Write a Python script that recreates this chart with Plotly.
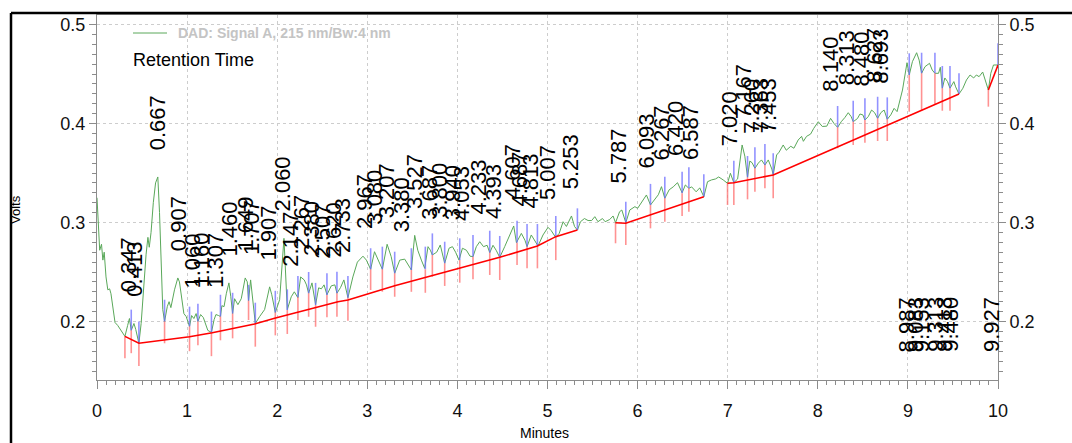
import numpy as np
import plotly.graph_objects as go

# ---------------- data ----------------
time_min = [0.000, 0.015, 0.030, 0.050, 0.065, 0.080, 0.100, 0.120, 0.140, 0.155, 0.175, 0.200, 0.230, 0.260,
            0.290, 0.310, 0.340, 0.360, 0.380, 0.410, 0.430, 0.465, 0.490, 0.520, 0.545, 0.565, 0.580, 0.600,
            0.625, 0.650, 0.675, 0.694, 0.713, 0.730, 0.750, 0.780, 0.800, 0.820, 0.860, 0.897, 0.915, 0.940,
            0.964, 0.990, 1.027, 1.050, 1.075, 1.100, 1.120, 1.150, 1.180, 1.230, 1.270, 1.300, 1.320, 1.350,
            1.370, 1.386, 1.410, 1.435, 1.464, 1.485, 1.505, 1.527, 1.564, 1.601, 1.645, 1.668, 1.682, 1.705,
            1.730, 1.757, 1.805, 1.860, 1.916, 1.940, 1.979, 2.027, 2.075, 2.090, 2.112, 2.156, 2.190, 2.230,
            2.260, 2.300, 2.325, 2.349, 2.386, 2.426, 2.460, 2.490, 2.520, 2.552, 2.600, 2.640, 2.663, 2.704,
            2.740, 2.785, 2.840, 2.890, 2.952, 2.990, 3.037, 3.080, 3.120, 3.167, 3.220, 3.265, 3.304, 3.360,
            3.415, 3.450, 3.489, 3.526, 3.560, 3.600, 3.637, 3.674, 3.700, 3.722, 3.770, 3.810, 3.840, 3.859,
            3.907, 3.945, 3.980, 4.018, 4.056, 4.100, 4.140, 4.173, 4.210, 4.248, 4.290, 4.330, 4.359, 4.395,
            4.430, 4.470, 4.525, 4.580, 4.625, 4.655, 4.710, 4.750, 4.773, 4.820, 4.860, 4.895, 4.950, 5.006,
            5.040, 5.090, 5.130, 5.173, 5.210, 5.266, 5.300, 5.332, 5.366, 5.410, 5.450, 5.490, 5.525, 5.560,
            5.610, 5.640, 5.690, 5.728, 5.755, 5.800, 5.825, 5.869, 5.913, 5.970, 6.000, 6.050, 6.098, 6.143,
            6.190, 6.230, 6.265, 6.302, 6.350, 6.395, 6.443, 6.494, 6.530, 6.569, 6.600, 6.650, 6.690, 6.735,
            6.776, 6.820, 6.865, 6.900, 6.950, 6.998, 7.030, 7.068, 7.110, 7.143, 7.160, 7.190, 7.220, 7.245,
            7.270, 7.302, 7.340, 7.375, 7.413, 7.450, 7.490, 7.505, 7.543, 7.570, 7.616, 7.650, 7.700, 7.735,
            7.782, 7.820, 7.840, 7.875, 7.920, 7.955, 8.005, 8.050, 8.100, 8.142, 8.180, 8.220, 8.260, 8.300,
            8.338, 8.370, 8.393, 8.440, 8.468, 8.500, 8.523, 8.560, 8.597, 8.630, 8.664, 8.700, 8.736, 8.771,
            8.810, 8.847, 8.880, 8.940, 8.970, 8.990, 9.015, 9.050, 9.097, 9.125, 9.152, 9.190, 9.240, 9.270,
            9.300, 9.340, 9.360, 9.382, 9.410, 9.440, 9.467, 9.510, 9.530, 9.567, 9.610, 9.650, 9.690, 9.730,
            9.760, 9.790, 9.830, 9.850, 9.893, 9.920, 9.950, 10.000]
signal_v = [0.325, 0.300, 0.272, 0.278, 0.262, 0.270, 0.245, 0.232, 0.233, 0.228, 0.215, 0.199, 0.196, 0.192,
            0.187, 0.185, 0.196, 0.203, 0.191, 0.198, 0.192, 0.178, 0.198, 0.240, 0.268, 0.285, 0.275, 0.290,
            0.320, 0.340, 0.346, 0.310, 0.255, 0.212, 0.200, 0.215, 0.220, 0.214, 0.232, 0.244, 0.240, 0.226,
            0.208, 0.205, 0.195, 0.206, 0.203, 0.208, 0.200, 0.207, 0.204, 0.191, 0.189, 0.202, 0.207, 0.206,
            0.205, 0.216, 0.215, 0.228, 0.239, 0.225, 0.208, 0.223, 0.217, 0.223, 0.244, 0.240, 0.221, 0.242,
            0.219, 0.198, 0.205, 0.212, 0.235, 0.227, 0.209, 0.222, 0.284, 0.259, 0.212, 0.225, 0.230, 0.224,
            0.245, 0.242, 0.237, 0.2285, 0.239, 0.217, 0.234, 0.233, 0.237, 0.227, 0.236, 0.237, 0.2285, 0.2345,
            0.242, 0.224, 0.245, 0.260, 0.266, 0.262, 0.2527, 0.2705, 0.262, 0.2527, 0.278, 0.2655, 0.2487, 0.262,
            0.263, 0.258, 0.252, 0.287, 0.272, 0.262, 0.2537, 0.2756, 0.272, 0.2672, 0.270, 0.2773, 0.266, 0.2588,
            0.274, 0.2756, 0.270, 0.262, 0.274, 0.272, 0.266, 0.2655, 0.2756, 0.2806, 0.2756, 0.277, 0.2695, 0.277,
            0.272, 0.2648, 0.2756, 0.2874, 0.2965, 0.2796, 0.289, 0.282, 0.2756, 0.2874, 0.282, 0.2763, 0.2874, 0.2951,
            0.292, 0.285, 0.289, 0.3008, 0.296, 0.3066, 0.296, 0.2924, 0.3008, 0.304, 0.302, 0.302, 0.3059, 0.3008,
            0.304, 0.3008, 0.303, 0.3066, 0.2998, 0.3109, 0.3126, 0.2998, 0.3126, 0.316, 0.3143, 0.321, 0.3278, 0.3177,
            0.3227, 0.328, 0.3362, 0.3244, 0.333, 0.336, 0.3402, 0.330, 0.3379, 0.3345, 0.336, 0.331, 0.335, 0.326,
            0.3412, 0.343, 0.344, 0.346, 0.343, 0.3396, 0.3497, 0.3402, 0.344, 0.3648, 0.3783, 0.367, 0.3457, 0.362,
            0.3605, 0.3547, 0.360, 0.3632, 0.358, 0.3632, 0.354, 0.348, 0.3682, 0.371, 0.3783, 0.373, 0.377, 0.375,
            0.3833, 0.387, 0.382, 0.387, 0.3893, 0.3951, 0.4018, 0.397, 0.3973, 0.4052, 0.400, 0.3961, 0.4018, 0.406,
            0.4109, 0.407, 0.4018, 0.405, 0.4096, 0.4087, 0.4035, 0.407, 0.4136, 0.411, 0.4052, 0.411, 0.4136, 0.4042,
            0.4087, 0.4153, 0.412, 0.4338, 0.449, 0.4614, 0.449, 0.4625, 0.4715, 0.464, 0.4507, 0.4574, 0.4608, 0.454,
            0.4507, 0.4507, 0.4568, 0.4356, 0.446, 0.4423, 0.4356, 0.4423, 0.437, 0.4298, 0.4356, 0.444, 0.449, 0.446,
            0.449, 0.4473, 0.452, 0.446, 0.4338, 0.4507, 0.4591, 0.4591]

# peak start/end marks: time, top of blue tick, signal, bottom of red tick
mark_t = [0.31, 0.38, 0.465, 0.75, 1.027, 1.12, 1.27, 1.37, 1.505, 1.682, 1.757, 1.979, 2.112, 2.23,
          2.349, 2.426, 2.552, 2.663, 2.785, 3.037, 3.167, 3.304, 3.489, 3.644, 3.722, 3.859, 4.026, 4.173,
          4.359, 4.47, 4.662, 4.773, 4.888, 5.092, 5.332, 5.755, 5.869, 6.143, 6.302, 6.494, 6.569, 6.735,
          6.998, 7.068, 7.22, 7.302, 7.413, 7.505, 8.22, 8.393, 8.523, 8.664, 8.771, 9.015, 9.152, 9.30,
          9.382, 9.467, 9.567, 9.893, 10.0]
mark_top = [None, 0.212, 0.200, 0.222, 0.215, 0.218, 0.210, 0.227, 0.229, 0.237, 0.219, 0.231, 0.2325, 0.246,
            0.250, 0.239, 0.2487, 0.2503, 0.246, 0.274, 0.2756, 0.2705, 0.274, 0.2756, 0.289, 0.2806, 0.284, 0.2874,
            0.2917, 0.2864, 0.3018, 0.2985, 0.2985, 0.3066, 0.3143, None, 0.321, 0.339, 0.3463, 0.3513, 0.3557, 0.3487,
            None, 0.3624, 0.3672, 0.376, 0.3793, 0.370, 0.4177, 0.423, 0.4254, 0.427, 0.4264, 0.4709, 0.4715, 0.4715,
            0.4581, 0.4581, 0.4507, None, 0.481]
mark_sig = [0.185, 0.191, 0.178, 0.200, 0.195, 0.200, 0.189, 0.205, 0.208, 0.221, 0.198, 0.209, 0.2116, 0.2244,
            0.2285, 0.2167, 0.2268, 0.2285, 0.224, 0.2527, 0.2527, 0.2487, 0.252, 0.2527, 0.2672, 0.2588, 0.2621, 0.2655,
            0.2695, 0.2648, 0.2796, 0.2756, 0.2763, 0.285, 0.2924, 0.2998, 0.2998, 0.3177, 0.3244, 0.3295, 0.3345, 0.326,
            0.3396, 0.3402, 0.3457, 0.3547, 0.358, 0.348, 0.3961, 0.4018, 0.4035, 0.4052, 0.4042, 0.449, 0.4507, 0.4507,
            0.4356, 0.4356, 0.4298, 0.4338, 0.4591]
mark_bot = [0.163, 0.168, 0.155, 0.178, 0.170, 0.176, 0.165, 0.181, 0.183, 0.2015, 0.1746, 0.186, 0.1874, 0.2015,
            0.2048, 0.1947, 0.2042, 0.2048, 0.2008, 0.2318, 0.2301, 0.225, 0.230, 0.229, 0.2452, 0.2359, 0.2392, 0.2426,
            0.247, 0.2419, 0.257, 0.2537, 0.2537, 0.262, None, 0.279, 0.2773, 0.2941, 0.3008, 0.3066, 0.3109, None,
            0.3177, 0.3177, 0.3234, 0.3311, 0.3345, 0.3244, 0.375, 0.3783, 0.3806, 0.3823, 0.3823, 0.4119, 0.4129, 0.4187,
            0.4129, 0.4129, None, 0.417, None]

# baselines (peak integration)
base1_t = [0.31, 0.465, 1.027, 1.279, 1.749, 1.971, 2.674, 2.785, 3.304, 4.026, 4.47, 4.888, 5.092, 5.332]
base1_v = [0.185, 0.178, 0.1846, 0.1887, 0.1975, 0.2032, 0.220, 0.2217, 0.2362, 0.2537, 0.2648, 0.2763, 0.2857, 0.2924]
base2_t = [5.755, 5.869, 6.735]
base2_v = [0.2998, 0.2992, 0.326]
base3_t = [6.998, 7.068, 7.505, 9.567]
base3_v = [0.3396, 0.3402, 0.348, 0.4298]
base4_t = [9.893, 10.0]
base4_v = [0.4338, 0.4591]

# retention time labels
peak_rt = [0.347, 0.413, 0.667, 0.907, 1.060, 1.160, 1.307, 1.460, 1.649, 1.707, 1.907, 2.060, 2.147, 2.267,
           2.380, 2.507, 2.620, 2.733, 2.967, 3.080, 3.207, 3.380, 3.527, 3.687, 3.800, 3.940, 4.053, 4.233,
           4.393, 4.607, 4.687, 4.813, 5.007, 5.253, 5.787, 6.093, 6.267, 6.420, 6.587, 7.020, 7.167, 7.260,
           7.363, 7.453, 8.140, 8.313, 8.480, 8.627, 8.693]
low_rt = [8.987, 9.083, 9.153, 9.313, 9.413, 9.480, 9.927]
low_label_v = 0.167

x_ticks = [0, 1, 2, 3, 4, 5, 6, 7, 8, 9, 10]
y_ticks = [0.2, 0.3, 0.4, 0.5]

# ---------------- figure ----------------
W, H = 1072, 443
L, R, T, B = 97, 74, 15, 63
pw, ph = W - L - R, H - T - B
def px_x(p):
    return (p - L) / pw
def px_y(p):
    return (H - B - p) / ph

NARROW = "Liberation Sans Narrow, Arial Narrow, Liberation Sans, Arial, sans-serif"
ARIAL = "Liberation Sans, Arial, sans-serif"
GREEN = "#5aa85a"

fig = go.Figure()
fig.add_trace(go.Scatter(x=time_min, y=signal_v, mode="lines",
                         line=dict(color=GREEN, width=1), hoverinfo="skip"))

bx, by, rx, ry = [], [], [], []
for t, top, s, bot in zip(mark_t, mark_top, mark_sig, mark_bot):
    if top is not None:
        bx += [t, t, None]; by += [s, top, None]
    if bot is not None:
        rx += [t, t, None]; ry += [bot, s, None]
fig.add_trace(go.Scatter(x=bx, y=by, mode="lines", line=dict(color="rgba(110,110,255,0.75)", width=1.6),
                         hoverinfo="skip"))
fig.add_trace(go.Scatter(x=rx, y=ry, mode="lines", line=dict(color="rgba(255,110,110,0.75)", width=1.6),
                         hoverinfo="skip"))
for bt, bv in [(base1_t, base1_v), (base2_t, base2_v), (base3_t, base3_v), (base4_t, base4_v)]:
    fig.add_trace(go.Scatter(x=bt, y=bv, mode="lines", line=dict(color="#ff0000", width=1.6), hoverinfo="skip"))

# dummy trace for right axis
fig.add_trace(go.Scatter(x=[5], y=[0.3], yaxis="y2", mode="markers", marker=dict(opacity=0), hoverinfo="skip"))

tarr = np.array(time_min); varr = np.array(signal_v)
for rt in peak_rt:
    grid = np.linspace(rt - 0.03, rt + 0.03, 13)
    apex = float(np.interp(grid, tarr, varr).max())
    fig.add_annotation(x=rt, y=apex, text=f"{rt:.3f}", textangle=-90, showarrow=False,
                       xanchor="center", yanchor="bottom", yshift=25,
                       font=dict(family=ARIAL, size=22, color="#000"))
for rt in low_rt:
    fig.add_annotation(x=rt, y=low_label_v, text=f"{rt:.3f}", textangle=-90, showarrow=False,
                       xanchor="center", yanchor="bottom",
                       font=dict(family=ARIAL, size=22, color="#000"))

# legend-like header
fig.add_shape(type="line", xref="paper", yref="paper", x0=px_x(133), x1=px_x(167), y0=px_y(33), y1=px_y(33),
              line=dict(color=GREEN, width=1))
fig.add_annotation(xref="paper", yref="paper", x=px_x(176), y=px_y(33), text="<b>DAD: Signal A, 215 nm/Bw:4 nm</b>",
                   showarrow=False, xanchor="left", yanchor="middle",
                   font=dict(family=NARROW, size=14, color="#c4c4c4"))
fig.add_annotation(xref="paper", yref="paper", x=px_x(131), y=px_y(60), text="Retention Time",
                   showarrow=False, xanchor="left", yanchor="middle",
                   font=dict(family=NARROW, size=18, color="#000"))
# axis titles
fig.add_annotation(xref="paper", yref="paper", x=px_x(15), y=px_y(210), text="Volts", textangle=-90,
                   showarrow=False, xanchor="center", yanchor="middle",
                   font=dict(family=NARROW, size=13, color="#000"))
fig.add_annotation(xref="paper", yref="paper", x=px_x(544), y=px_y(433), text="Minutes",
                   showarrow=False, xanchor="center", yanchor="middle",
                   font=dict(family=NARROW, size=14, color="#000"))
# outer black frame (partially visible)
fig.add_shape(type="line", xref="paper", yref="paper", x0=px_x(11), x1=px_x(1080), y0=px_y(13), y1=px_y(13),
              line=dict(color="#000", width=2.5))
fig.add_shape(type="line", xref="paper", yref="paper", x0=px_x(11), x1=px_x(11), y0=px_y(13), y1=px_y(450),
              line=dict(color="#000", width=2.5))

AX = "#8c8c8c"
GRID = "#cdcdcd"
yrange = [0.5 - (H - B - 24.5) / 990, 0.5 + (24.5 - T) / 990]
common_y = dict(range=yrange, tickvals=y_ticks, ticktext=[f"{v:.1f}" for v in y_ticks],
                ticks="outside", ticklen=7, tickcolor=AX, showline=True, linecolor=AX, linewidth=1,
                tickfont=dict(family=NARROW, size=18, color="#111"),
                minor=dict(dtick=0.01, tick0=0, ticks="outside", ticklen=4, tickcolor=AX),
                zeroline=False)
fig.update_layout(
    width=W, height=H, margin=dict(l=L, r=R, t=T, b=B),
    paper_bgcolor="white", plot_bgcolor="white", showlegend=False,
    xaxis=dict(range=[0, 10], tickvals=x_ticks, ticks="outside", ticklen=8, tickcolor=AX,
               showline=True, linecolor=AX, linewidth=1, mirror=True,
               showgrid=True, gridcolor=GRID, griddash="3px,3px", gridwidth=1, zeroline=False,
               tickfont=dict(family=NARROW, size=18, color="#111"), ticklabelstandoff=6,
               minor=dict(dtick=0.1, tick0=0, ticks="outside", ticklen=4, tickcolor=AX)),
    yaxis=dict(**common_y, showgrid=True, gridcolor=GRID, griddash="3px,3px", gridwidth=1),
    yaxis2=dict(**common_y, overlaying="y", side="right", showgrid=False),
)
fig.write_html("out.html")
